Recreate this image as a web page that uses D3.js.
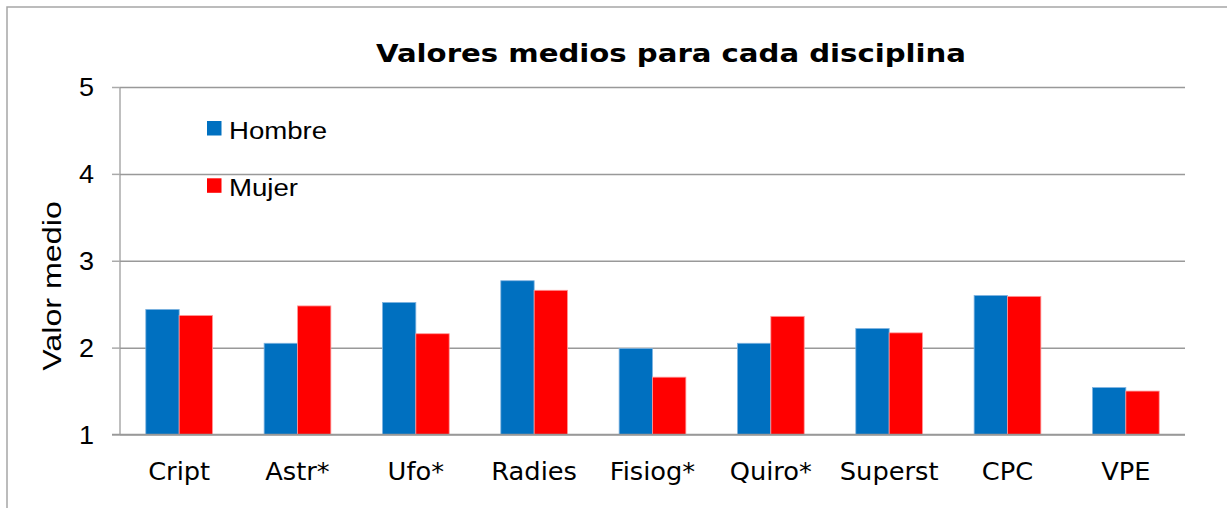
<!DOCTYPE html>
<html>
<head>
<meta charset="utf-8">
<script src="https://cdn.jsdelivr.net/npm/d3@7"></script>
<style>
  body { margin: 0; background: #fff; }
  svg { display: block; }
</style>
</head>
<body>
<svg width="1227" height="508"></svg>
<script>
// datos
const categories = ["Cript", "Astr*", "Ufo*", "Radies", "Fisiog*", "Quiro*", "Superst", "CPC", "VPE"];
const series = ["Hombre", "Mujer"];
const hombre = [2.44, 2.05, 2.52, 2.77, 1.99, 2.05, 2.22, 2.60, 1.54];
const mujer = [2.37, 2.48, 2.16, 2.66, 1.66, 2.36, 2.17, 2.59, 1.50];
const yTicks = [1, 2, 3, 4, 5];

const colors = { Hombre: "#0070C0", Mujer: "#FF0000" };
const strokes = { Hombre: "#7fb3e0", Mujer: "#ff9a9a" };

const svg = d3.select("svg");

const margin = { top: 87, left: 120, right: 42, bottom: 73.5 };
const width = +svg.attr("width");
const height = +svg.attr("height");

// stretch text horizontally to the width seen in the original
const stretch = (sel, k) => {
  sel.each(function () {
    const len = this.getComputedTextLength();
    d3.select(this)
      .attr("textLength", len * k)
      .attr("lengthAdjust", "spacingAndGlyphs");
  });
};

// outer frame
svg.append("rect")
  .attr("x", 7)
  .attr("y", 7)
  .attr("width", width + 20)
  .attr("height", height + 20)
  .attr("fill", "none")
  .attr("stroke", "#a6a6a6")
  .attr("stroke-width", 1.5);

const x0 = d3.scaleBand()
  .domain(categories)
  .range([margin.left, width - margin.right])
  .paddingInner(0.436)
  .paddingOuter(0.218);

const x1 = d3.scaleBand()
  .domain(series)
  .range([0, x0.bandwidth()]);

const y = d3.scaleLinear()
  .domain([1, 5])
  .range([height - margin.bottom, margin.top]);

// gridlines + y axis
const yAxis = d3.axisLeft(y)
  .tickValues(yTicks)
  .tickSize(8)
  .tickFormat(d3.format("d"))
  .tickPadding(18);

const yAxisG = svg.append("g")
  .attr("transform", `translate(${margin.left},0)`)
  .call(yAxis);

yAxisG.selectAll(".tick")
  .append("line")
  .attr("class", "grid")
  .attr("x1", 0)
  .attr("x2", width - margin.right - margin.left)
  .attr("stroke", "#999")
  .attr("stroke-width", 1.5);

yAxisG.select(".domain")
  .attr("d", `M0,${y(1)}V${y(5)}`)
  .attr("stroke", "#aaa")
  .attr("stroke-width", 1.5);

yAxisG.selectAll(".tick > line:not(.grid)")
  .attr("stroke", "#aaa")
  .attr("stroke-width", 1.5);

yAxisG.selectAll(".tick text")
  .attr("font-family", "Liberation Sans, Arial, sans-serif")
  .attr("font-size", 25)
  .attr("fill", "#000")
  .attr("dy", "0.35em")
  .call(stretch, 1.08);

// bars
const rows = categories.map((c, i) => ({ cat: c, Hombre: hombre[i], Mujer: mujer[i] }));

const groups = svg.append("g")
  .selectAll("g")
  .data(rows)
  .join("g")
  .attr("transform", d => `translate(${x0(d.cat)},0)`);

groups.selectAll("rect")
  .data(d => series.map(s => ({ s, v: d[s] })))
  .join("rect")
  .attr("x", d => x1(d.s))
  .attr("y", d => y(d.v))
  .attr("width", x1.bandwidth())
  .attr("height", d => y(1) - y(d.v))
  .attr("fill", d => colors[d.s])
  .attr("stroke", d => strokes[d.s])
  .attr("stroke-width", 0.8);

// redraw baseline above bars
svg.append("line")
  .attr("x1", margin.left - 8)
  .attr("x2", width - margin.right)
  .attr("y1", y(1))
  .attr("y2", y(1))
  .attr("stroke", "#999")
  .attr("stroke-width", 1.5);

// category labels
svg.append("g")
  .selectAll("text")
  .data(categories)
  .join("text")
  .attr("x", d => x0(d) + x0.bandwidth() / 2)
  .attr("y", 480)
  .attr("text-anchor", "middle")
  .attr("font-family", "DejaVu Sans, Verdana, sans-serif")
  .attr("font-size", 24)
  .attr("fill", "#000")
  .text(d => d)
  .call(stretch, 1.07);

// title
svg.append("text")
  .attr("x", 671)
  .attr("y", 62)
  .attr("text-anchor", "middle")
  .attr("font-family", "DejaVu Sans, Verdana, sans-serif")
  .attr("font-weight", "bold")
  .attr("font-size", 24.5)
  .attr("fill", "#000")
  .text("Valores medios para cada disciplina")
  .call(stretch, 1.19);

// y axis title
svg.append("text")
  .attr("transform", "translate(61,286) rotate(-90)")
  .attr("text-anchor", "middle")
  .attr("font-family", "Liberation Sans, Arial, sans-serif")
  .attr("font-size", 26)
  .attr("fill", "#000")
  .text("Valor medio")
  .call(stretch, 1.24);

// legend
const legend = svg.append("g")
  .selectAll("g")
  .data(series)
  .join("g")
  .attr("transform", (d, i) => `translate(207,${121 + i * 57.3})`);

legend.append("rect")
  .attr("width", 14.5)
  .attr("height", 14.5)
  .attr("fill", d => colors[d]);

legend.append("text")
  .attr("x", 22)
  .attr("y", 17.5)
  .attr("font-family", "Liberation Sans, Arial, sans-serif")
  .attr("font-size", 23)
  .attr("fill", "#000")
  .text(d => d)
  .call(stretch, 1.2);
</script>
</body>
</html>
